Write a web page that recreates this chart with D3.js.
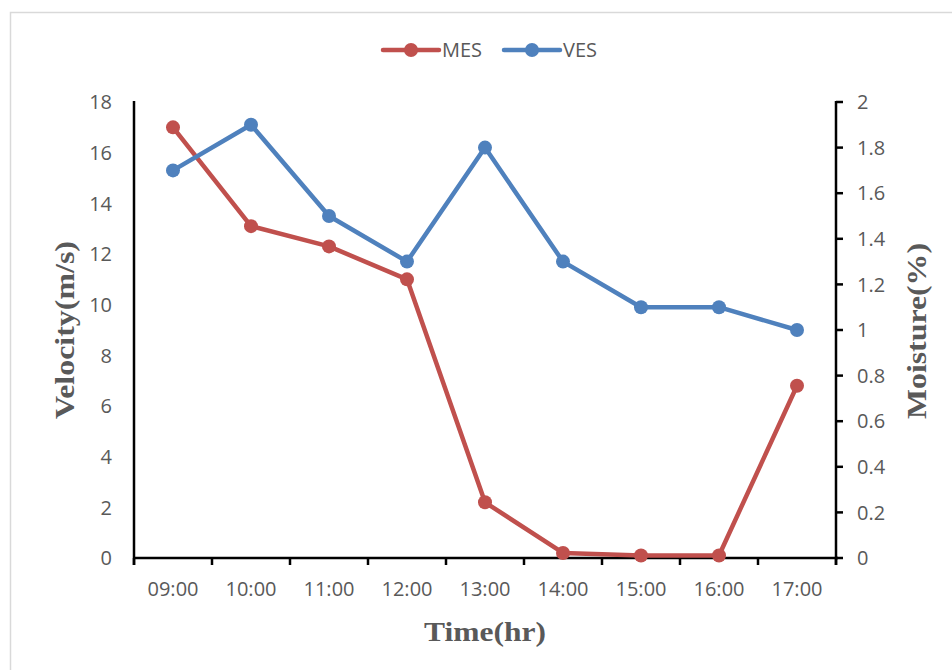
<!DOCTYPE html>
<html>
<head>
<meta charset="utf-8">
<script src="https://cdn.jsdelivr.net/npm/d3@7/dist/d3.min.js"></script>
<style>
  html, body { margin: 0; padding: 0; background: #fff; }
  svg { display: block; }
</style>
</head>
<body>
<svg id="chart" width="952" height="670"></svg>
<script>
// Hourly readings
const times = ["09:00", "10:00", "11:00", "12:00", "13:00", "14:00", "15:00", "16:00", "17:00"];
const mesValues = [17, 13.1, 12.3, 11, 2.2, 0.2, 0.1, 0.1, 6.8];      // left axis
const vesValues = [1.7, 1.9, 1.5, 1.3, 1.8, 1.3, 1.1, 1.1, 1.0];      // right axis
const leftTicks = [0, 2, 4, 6, 8, 10, 12, 14, 16, 18];
const rightTicks = [0, 0.2, 0.4, 0.6, 0.8, 1, 1.2, 1.4, 1.6, 1.8, 2];

const svg = d3.select("#chart");
const W = 952, H = 670;
const plot = { left: 134, right: 836, top: 102, bottom: 558 };
const red = "#C0504D", blue = "#4F81BD", textGray = "#595959";
const tickFont = "'Open Sans', Lato, sans-serif";
const tickSize = 20;
const titleFont = "'Liberation Serif', 'Times New Roman', serif";

// Frame around the chart area
svg.append("rect")
  .attr("x", 10.5).attr("y", 12.5)
  .attr("width", W + 20).attr("height", H + 20)
  .attr("fill", "#fff").attr("stroke", "#d9d9d9").attr("stroke-width", 1.5);

const x = d3.scaleBand().domain(times).range([plot.left, plot.right]);
const yL = d3.scaleLinear().domain([0, 18]).range([plot.bottom, plot.top]);
const yR = d3.scaleLinear().domain([0, 2]).range([plot.bottom, plot.top]);

// Bottom axis with ticks at category boundaries
const xAxis = svg.append("g").attr("transform", `translate(0,${plot.bottom})`);
xAxis.append("line")
  .attr("x1", plot.left).attr("x2", plot.right + 2)
  .attr("stroke", "#000").attr("stroke-width", 2.5);
const bounds = times.map(t => x(t)).concat([plot.right]);
xAxis.selectAll("line.tick").data(bounds).join("line")
  .attr("class", "tick")
  .attr("x1", d => d).attr("x2", d => d)
  .attr("y1", 0).attr("y2", 7)
  .attr("stroke", "#000").attr("stroke-width", 2.5);
xAxis.selectAll("text").data(times).join("text")
  .attr("x", d => x(d) + x.bandwidth() / 2)
  .attr("y", 38)
  .attr("text-anchor", "middle")
  .attr("font-family", tickFont).attr("font-size", tickSize)
  .attr("fill", textGray)
  .text(d => d);

// Left axis (line only, labels)
const lAxis = svg.append("g");
lAxis.append("line")
  .attr("x1", plot.left).attr("x2", plot.left)
  .attr("y1", plot.top - 1).attr("y2", plot.bottom + 7)
  .attr("stroke", "#000").attr("stroke-width", 2.5);
lAxis.selectAll("text").data(leftTicks).join("text")
  .attr("x", 112)
  .attr("y", d => yL(d))
  .attr("dy", "0.36em")
  .attr("text-anchor", "end")
  .attr("font-family", tickFont).attr("font-size", tickSize)
  .attr("fill", textGray)
  .text(d => d);

// Right axis with outward ticks
const rAxis = svg.append("g");
rAxis.append("line")
  .attr("x1", plot.right).attr("x2", plot.right)
  .attr("y1", plot.top - 1).attr("y2", plot.bottom + 7)
  .attr("stroke", "#000").attr("stroke-width", 2.5);
rAxis.selectAll("line.tick").data(rightTicks).join("line")
  .attr("class", "tick")
  .attr("x1", plot.right).attr("x2", plot.right + 7)
  .attr("y1", d => yR(d)).attr("y2", d => yR(d))
  .attr("stroke", "#000").attr("stroke-width", 2.5);
rAxis.selectAll("text").data(rightTicks).join("text")
  .attr("x", 857)
  .attr("y", d => yR(d))
  .attr("dy", "0.36em")
  .attr("text-anchor", "start")
  .attr("font-family", tickFont).attr("font-size", tickSize)
  .attr("fill", textGray)
  .text(d => d);

// Axis titles (stretched along their run to the same length as the frame's title slots)
function title(txt, tx, ty, rot, len) {
  svg.append("text")
    .attr("transform", `translate(${tx},${ty}) rotate(${rot})`)
    .attr("text-anchor", "middle")
    .attr("font-family", titleFont).attr("font-weight", "bold").attr("font-size", 28)
    .attr("fill", textGray)
    .attr("textLength", len).attr("lengthAdjust", "spacingAndGlyphs")
    .text(txt);
}
title("Velocity(m/s)", 74, 330, -90, 178);
title("Moisture(%)", 926, 331, -90, 176);
title("Time(hr)", (plot.left + plot.right) / 2, 641, 0, 122);

// Series
const cx = d => x(d) + x.bandwidth() / 2;
function drawSeries(values, yScale, color) {
  const pts = values.map((v, i) => [cx(times[i]), yScale(v)]);
  svg.append("path")
    .attr("d", d3.line()(pts))
    .attr("fill", "none")
    .attr("stroke", color).attr("stroke-width", 4.5)
    .attr("stroke-linejoin", "round").attr("stroke-linecap", "round");
  svg.append("g").selectAll("circle").data(pts).join("circle")
    .attr("cx", d => d[0]).attr("cy", d => d[1])
    .attr("r", 7).attr("fill", color);
}
drawSeries(mesValues, yL, red);
drawSeries(vesValues, yR, blue);

// Legend
const legend = [
  { name: "MES", color: red, x0: 383 },
  { name: "VES", color: blue, x0: 504 }
];
const lg = svg.append("g");
legend.forEach(d => {
  lg.append("line")
    .attr("x1", d.x0).attr("x2", d.x0 + 56)
    .attr("y1", 50).attr("y2", 50)
    .attr("stroke", d.color).attr("stroke-width", 4.5).attr("stroke-linecap", "round");
  lg.append("circle").attr("cx", d.x0 + 28).attr("cy", 50).attr("r", 7).attr("fill", d.color);
  lg.append("text")
    .attr("x", d.x0 + 59).attr("y", 50).attr("dy", "0.36em")
    .attr("font-family", tickFont).attr("font-size", tickSize)
    .attr("fill", textGray)
    .text(d.name);
});
</script>
</body>
</html>
